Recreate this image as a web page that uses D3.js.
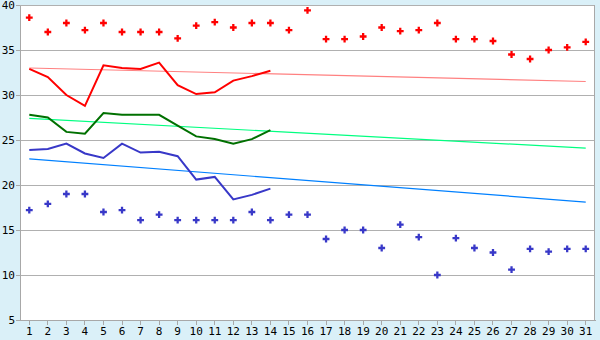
<!DOCTYPE html>
<html>
<head>
<meta charset="utf-8">
<script src="https://cdn.jsdelivr.net/npm/d3@7"></script>
<style>
  body { margin: 0; background: #daf0f8; }
  svg { display: block; }
  .axis text { font-family: "DejaVu Sans Mono", monospace; font-size: 11px; fill: #000; }
  .axis path, .axis line { stroke: #a8a8a8; shape-rendering: crispEdges; }
  .grid line { stroke: #b0b0b0; shape-rendering: crispEdges; }
</style>
</head>
<body>
<div id="chart"></div>
<script>
var days = d3.range(1, 32);
var yTicks = [5, 10, 15, 20, 25, 30, 35, 40];

// daily record points (one per day)
var recordHigh = [38.6, 37.0, 38.0, 37.2, 38.0, 37.0, 37.0, 37.0, 36.3, 37.7,
                  38.1, 37.5, 38.0, 38.0, 37.2, 39.4, 36.2, 36.2, 36.5, 37.5,
                  37.1, 37.2, 38.0, 36.2, 36.2, 36.0, 34.5, 34.0, 35.0, 35.3, 35.9];
var recordLow = [17.2, 17.9, 19.0, 19.0, 17.0, 17.2, 16.1, 16.7, 16.1, 16.1,
                 16.1, 16.1, 17.0, 16.1, 16.7, 16.7, 14.0, 15.0, 15.0, 13.0,
                 15.6, 14.2, 10.0, 14.1, 13.0, 12.5, 10.6, 12.9, 12.6, 12.9, 12.9];

// current month, days 1-14
var maxTemp = [32.9, 32.0, 30.0, 28.8, 33.3, 33.0, 32.9, 33.6, 31.1, 30.1, 30.3, 31.6, 32.1, 32.7];
var meanTemp = [27.8, 27.5, 25.9, 25.7, 28.0, 27.8, 27.8, 27.8, 26.6, 25.4, 25.1, 24.6, 25.1, 26.1];
var minTemp = [23.9, 24.0, 24.6, 23.5, 23.0, 24.6, 23.6, 23.7, 23.2, 20.6, 20.9, 18.4, 18.9, 19.6];

// normals: value on day 1 and day 31
var normalDays = [1, 31];
var normalMax = [33.0, 31.5];
var normalMean = [27.4, 24.1];
var normalMin = [22.9, 18.1];

var svg = d3.select("#chart").append("svg"),
    margin = {top: 5, right: 5, bottom: 20, left: 20},
    width = 600 - margin.left - margin.right,
    height = 340 - margin.top - margin.bottom;

svg.attr("width", 600).attr("height", 340);

var x = d3.scaleBand().domain(days).range([0, width]),
    y = d3.scaleLinear().domain([5, 40]).range([height, 0]);

function cx(d) { return x(d) + x.bandwidth() / 2; }

var g = svg.append("g")
    .attr("transform", "translate(" + margin.left + "," + margin.top + ")");

g.append("rect")
    .attr("width", width)
    .attr("height", height)
    .attr("fill", "#fff");

g.append("g")
    .attr("class", "grid")
    .selectAll("line")
    .data(yTicks)
    .enter().append("line")
    .attr("x1", 0).attr("x2", width)
    .attr("y1", function(d) { return Math.round(y(d)) + 0.5; })
    .attr("y2", function(d) { return Math.round(y(d)) + 0.5; });

g.append("line")
    .attr("x1", width - 0.5).attr("x2", width - 0.5)
    .attr("y1", 0).attr("y2", height)
    .attr("stroke", "#a8a8a8")
    .style("shape-rendering", "crispEdges");

g.append("g")
    .attr("class", "axis axis--x")
    .attr("transform", "translate(0," + height + ")")
    .call(d3.axisBottom(x).tickSize(5).tickSizeOuter(0).tickPadding(2));

g.append("g")
    .attr("class", "axis axis--y")
    .call(d3.axisLeft(y).tickValues(yTicks).tickSize(4).tickSizeOuter(0).tickPadding(1));

// normals
var normalLine = d3.line()
    .x(function(d) { return cx(d[0]); })
    .y(function(d) { return y(d[1]); });

[[normalMax, "#ff8080"], [normalMean, "#00ff80"], [normalMin, "#0080ff"]].forEach(function(s) {
  g.append("path")
      .datum(d3.zip(normalDays, s[0]))
      .attr("fill", "none")
      .attr("stroke", s[1])
      .attr("stroke-width", 1.2)
      .attr("d", normalLine);
});

// current month
var line = d3.line()
    .x(function(d, i) { return cx(days[i]); })
    .y(function(d) { return y(d); });

[[maxTemp, "#ff0000"], [meanTemp, "#007000"], [minTemp, "#3838c8"]].forEach(function(s) {
  g.append("path")
      .datum(s[0])
      .attr("fill", "none")
      .attr("stroke", s[1])
      .attr("stroke-width", 2)
      .attr("d", line);
});

// records
var sym = d3.symbol().type(d3.symbolCross).size(26);

[[recordHigh, "#ff0000"], [recordLow, "#3838c8"]].forEach(function(s) {
  g.append("g")
      .selectAll("path")
      .data(s[0])
      .enter().append("path")
      .attr("transform", function(d, i) { return "translate(" + cx(days[i]) + "," + y(d) + ")"; })
      .attr("fill", s[1])
      .attr("d", sym);
});
</script>
</body>
</html>
